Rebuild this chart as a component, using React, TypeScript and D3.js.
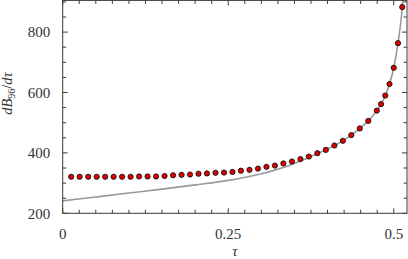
import React from "react";
import * as d3 from "d3";

const tauPoints = [
  0.0128, 0.0256, 0.0385, 0.0513, 0.0641, 0.0769, 0.0897, 0.1026, 0.1154, 0.1282,
  0.141, 0.1538, 0.1667, 0.1795, 0.1923, 0.2051, 0.2179, 0.2308, 0.2436, 0.2564,
  0.2692, 0.2821, 0.2949, 0.3077, 0.3205, 0.3333, 0.3462, 0.359, 0.3718, 0.3846,
  0.3974, 0.4103, 0.4231, 0.4359, 0.4487, 0.4615, 0.4744, 0.4808, 0.4872, 0.4936,
  0.5, 0.5064, 0.5128,
];
const valPoints = [
  321, 321, 321, 321, 321, 321, 321, 321, 322, 322,
  322, 323.5, 326, 327.5, 328.5, 331, 332, 334, 335, 337,
  341, 344, 348, 354, 358, 365, 371.5, 379.5, 388, 399,
  410, 424.5, 440, 459, 481, 506, 540, 561.5, 590, 628,
  682, 763.5, 883,
];

const tauCurve = [0, 0.05, 0.1, 0.15, 0.2, 0.25, 0.28, 0.3, 0.32, 0.34, 0.36, 0.38, 0.4, 0.4231, 0.4359, 0.4487, 0.4615, 0.4744, 0.4808, 0.4872, 0.4936, 0.5, 0.5064, 0.5128, 0.5145];
const valCurve = [241, 254, 267, 280, 294, 309, 321, 331, 343, 357, 374, 393, 413, 440, 459, 481, 506, 540, 561.5, 590, 628, 682, 763.5, 883, 940];

const xMajor = [0, 0.25, 0.5];
const xMajorLabels = ["0", "0.25", "0.5"];
const yMajor = [200, 400, 600, 800];

const W = 408, H = 259;
const L = 62.7, R = 407, T = 0.4, B = 213.3;

export default function App() {
  const x = d3.scaleLinear().domain([0, 0.52]).range([L, R]);
  const y = d3.scaleLinear().domain([200, 905]).range([B, T]);
  const line = d3
    .line<number>()
    .x((_, i) => x(tauCurve[i]))
    .y((d) => y(d))
    .curve(d3.curveMonotoneX);

  const xTicks = d3.range(0, 21).map((i) => i * 0.025).filter((t) => t <= 0.52);
  const yTicks = d3.range(0, 15).map((i) => 200 + i * 50).filter((v) => v <= 905);
  const axisColor = "#3a3a3a";
  const isMajorX = (t: number) => xMajor.some((m) => Math.abs(m - t) < 1e-6);
  const isMajorY = (v: number) => yMajor.includes(v);

  return (
    <svg width={W} height={H} style={{ position: "absolute", left: 0, top: 0, background: "#fff" }}>
      <defs>
        <clipPath id="plot">
          <rect x={L} y={T} width={R - L} height={B - T} />
        </clipPath>
      </defs>
      <path d={line(valCurve) || ""} fill="none" stroke="#999" strokeWidth={1.6} clipPath="url(#plot)" />
      {tauPoints.map((t, i) => (
        <circle key={i} cx={x(t)} cy={y(valPoints[i])} r={2.6} fill="#e00000" stroke="#111" strokeWidth={0.9} />
      ))}
      <rect x={L} y={T} width={R - L} height={B - T} fill="none" stroke={axisColor} strokeWidth={1} />
      {xTicks.map((t, i) => {
        const len = isMajorX(t) ? 5 : 3.5;
        return (
          <g key={"xt" + i}>
            <line x1={x(t)} x2={x(t)} y1={B} y2={B - len} stroke={axisColor} strokeWidth={1} />
            <line x1={x(t)} x2={x(t)} y1={T} y2={T + len} stroke={axisColor} strokeWidth={1} />
          </g>
        );
      })}
      {yTicks.map((v, i) => {
        const len = isMajorY(v) ? 5 : 3.5;
        return (
          <g key={"yt" + i}>
            <line x1={L} x2={L + len} y1={y(v)} y2={y(v)} stroke={axisColor} strokeWidth={1} />
            <line x1={R} x2={R - len} y1={y(v)} y2={y(v)} stroke={axisColor} strokeWidth={1} />
          </g>
        );
      })}
      <g fontFamily="Liberation Serif" fill="#333">
        {yMajor.map((v) => (
          <text key={"yl" + v} x={L - 12.5} y={y(v)} dy="0.35em" textAnchor="end" fontSize={15}>
            {v}
          </text>
        ))}
        {xMajor.map((t, i) => (
          <text key={"xl" + i} x={x(t)} y={B + 20} dy="0.35em" textAnchor="middle" fontSize={15}>
            {xMajorLabels[i]}
          </text>
        ))}
        <text x={(L + R) / 2} y={255.5} textAnchor="middle" fontSize={15} fontStyle="italic">
          τ
        </text>
        <text transform={`translate(11.5, ${y(600) + 1}) rotate(-90)`} textAnchor="middle" fontSize={14.5}>
          <tspan fontStyle="italic">dB</tspan>
          <tspan fontSize={10} dy={3}>96</tspan>
          <tspan dy={-3}>/</tspan>
          <tspan fontStyle="italic">dτ</tspan>
        </text>
      </g>
    </svg>
  );
}
